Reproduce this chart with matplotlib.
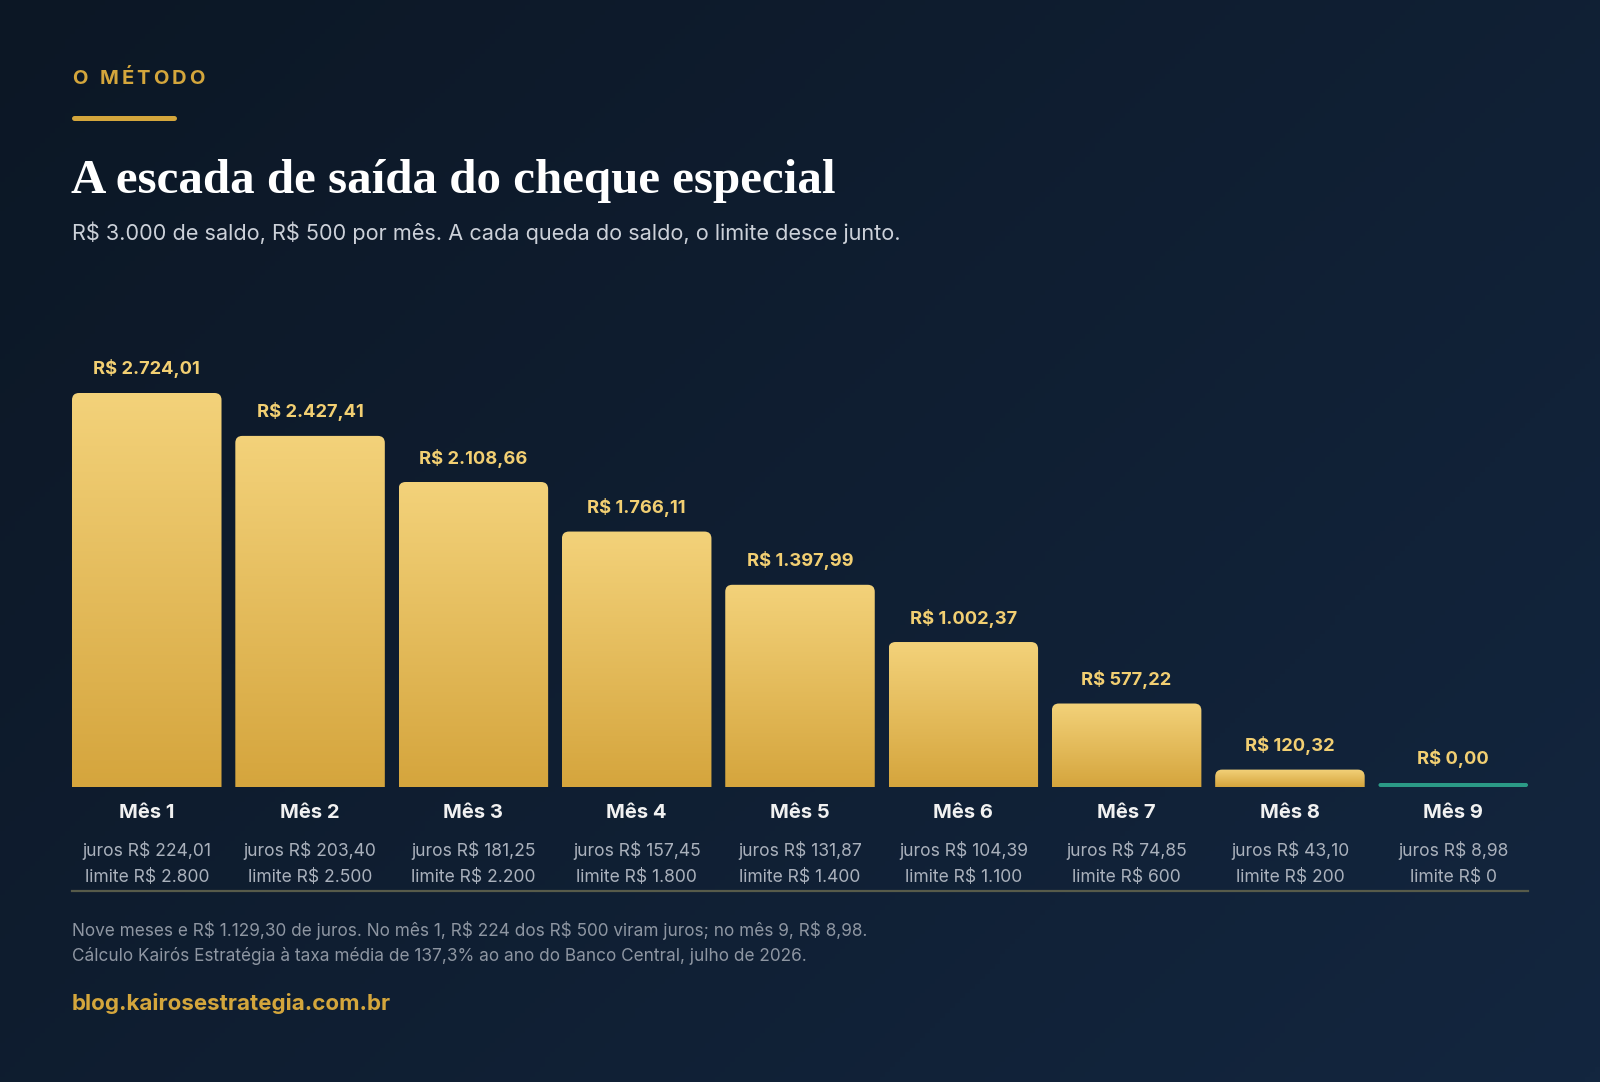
import numpy as np
import matplotlib.pyplot as plt
from matplotlib.patches import FancyBboxPatch
from matplotlib.colors import LinearSegmentedColormap
from matplotlib.lines import Line2D

W, H, DPI = 1600, 1082, 100

plt.rcParams['font.family'] = ['Inter', 'DejaVu Sans']

# dados: saldo devedor no fim de cada mês
meses = [f"Mês {i}" for i in range(1, 10)]
saldo = [2724.01, 2427.41, 2108.66, 1766.11, 1397.99, 1002.37, 577.22, 120.32, 0.00]
juros = [224.01, 203.40, 181.25, 157.45, 131.87, 104.39, 74.85, 43.10, 8.98]
limite = [2800, 2500, 2200, 1800, 1400, 1100, 600, 200, 0]

titulo = "A escada de saída do cheque especial"
subtitulo = "R$ 3.000 de saldo, R$ 500 por mês. A cada queda do saldo, o limite desce junto."
nota = ["Nove meses e R$ 1.129,30 de juros. No mês 1, R$ 224 dos R$ 500 viram juros; no mês 9, R$ 8,98.",
        "Cálculo Kairós Estratégia à taxa média de 137,3% ao ano do Banco Central, julho de 2026."]
rotulo = "O MÉTODO"
site = "blog.kairosestrategia.com.br"

BG_A, BG_B = "#0c1725", "#13263f"
GOLD = "#d4a63c"
GOLD_TOP, GOLD_BOT = "#f3d27a", "#d5a53d"
VAL_COLOR = "#f2cf72"
TEAL = "#2b9a86"


def brl(v, dec=2):
    s = f"{v:,.{dec}f}"
    return "R$ " + s.replace(",", "_").replace(".", ",").replace("_", ".")


def fx(px):
    return px / W


def fy(py):
    return 1 - py / H


fig = plt.figure(figsize=(W / DPI, H / DPI), dpi=DPI)

# fundo em degradê diagonal
bg = fig.add_axes([0, 0, 1, 1])
xx, yy = np.meshgrid(np.linspace(0, 1, 320), np.linspace(0, 1, 220))
bg.imshow(xx * 0.6 + yy * 0.4, cmap=LinearSegmentedColormap.from_list("bg", [BG_A, BG_B]),
          extent=(0, 1, 0, 1), origin="upper", aspect="auto", zorder=0)
bg.set_xlim(0, 1)
bg.set_ylim(0, 1)
bg.axis("off")

# cabeçalho
renderer = fig.canvas.get_renderer()
x = 72
for ch in rotulo:
    t = fig.text(fx(x), fy(79), ch, color=GOLD, fontsize=14.5, fontweight="bold", va="center")
    w = t.get_window_extent(renderer).width if ch != " " else 6
    x += w + 3.0
fig.add_artist(Line2D([fx(74), fx(174)], [fy(118)] * 2, color=GOLD, lw=3.6,
                      solid_capstyle="round", transform=fig.transFigure))
fig.text(fx(71), fy(181), titulo, color="#ffffff", fontsize=35.3, fontweight="bold",
         family="Liberation Serif", va="center")
fig.text(fx(72), fy(233), subtitulo, color="#ccd1d9", fontsize=15.6, va="center",
         parse_math=False)

# área do gráfico
base_px, top_px, bar1_px = 787, 300, 393
left_px, right_px = 72, 1528
ax = fig.add_axes([fx(left_px), fy(base_px), fx(right_px - left_px), (base_px - top_px) / H])
ax.patch.set_alpha(0)
ytop = saldo[0] * (base_px - top_px) / (base_px - bar1_px)
bw = 149.5 / 163.3
xlo, xhi = -bw / 2, len(saldo) - 1 + bw / 2
px_x = (xhi - xlo) / (right_px - left_px)
px_y = ytop / (base_px - top_px)

gold_cmap = LinearSegmentedColormap.from_list("ouro", [GOLD_BOT, GOLD_TOP])
grad = np.linspace(0, 1, 256).reshape(-1, 1)

for i, v in enumerate(saldo):
    x0 = i - bw / 2
    if v > 0:
        r = 7
        box = FancyBboxPatch((x0, -3 * r * px_y), bw, v + 3 * r * px_y,
                             boxstyle=f"round,pad=0,rounding_size={r * px_x}",
                             mutation_aspect=px_y / px_x, fc="none", ec="none")
        ax.add_patch(box)
        im = ax.imshow(grad, extent=(x0, x0 + bw, 0, v), cmap=gold_cmap, origin="lower",
                       aspect="auto", zorder=2)
        im.set_clip_path(box)
        htop = v
    else:
        r = 2
        htop = 4 * px_y
        box = FancyBboxPatch((x0, 0), bw, htop, boxstyle=f"round,pad=0,rounding_size={r * px_x}",
                             mutation_aspect=px_y / px_x, fc=TEAL, ec="none", zorder=2)
        ax.add_patch(box)
    ax.annotate(brl(v), (i, htop), xytext=(0, 24 * 0.72), textcoords="offset points",
                ha="center", va="center", color=VAL_COLOR, fontsize=13.2, fontweight="bold",
                parse_math=False)
    ax.annotate(meses[i], (i, 0), xytext=(0, -26 * 0.72), textcoords="offset points",
                ha="center", va="center", color="#f1f1f1", fontsize=14.5, fontweight="bold",
                annotation_clip=False)
    ax.annotate("juros " + brl(juros[i]), (i, 0), xytext=(0, -64 * 0.72), textcoords="offset points",
                ha="center", va="center", color="#aab1bc", fontsize=12.6, annotation_clip=False,
                parse_math=False)
    ax.annotate("limite " + brl(limite[i], 0), (i, 0), xytext=(0, -90 * 0.72),
                textcoords="offset points", ha="center", va="center", color="#aab1bc",
                fontsize=12.6, annotation_clip=False, parse_math=False)

ax.set_xlim(xlo, xhi)
ax.set_ylim(0, ytop)
ax.axis("off")

fig.add_artist(Line2D([fx(left_px), fx(right_px)], [fy(891)] * 2, color="#575b4a", lw=1.6,
                      transform=fig.transFigure))

# rodapé
fig.text(fx(72), fy(930), nota[0], color="#8e96a2", fontsize=12.4, va="center", parse_math=False)
fig.text(fx(72), fy(956), nota[1], color="#8e96a2", fontsize=12.4, va="center", parse_math=False)
fig.text(fx(72), fy(1003), site, color=GOLD, fontsize=16.1, fontweight="bold", va="center")

fig.savefig("out.png", dpi=DPI)
